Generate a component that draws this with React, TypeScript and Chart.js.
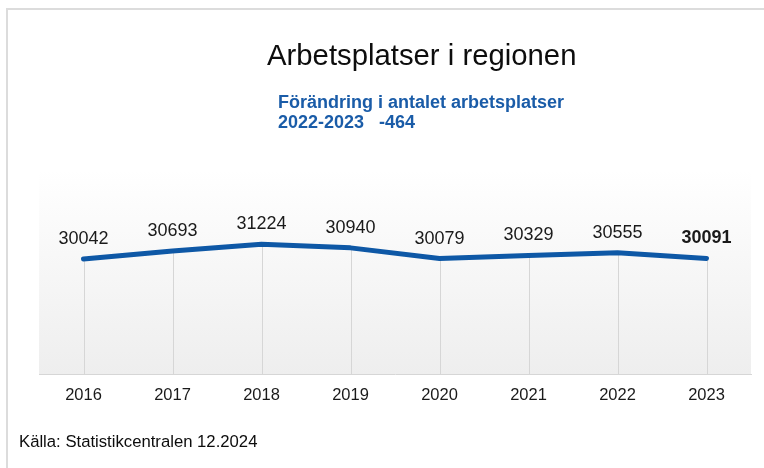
import React, { useEffect, useRef } from 'react';
import { Chart, registerables } from 'chart.js';

Chart.register(...registerables);

const years = ['2016', '2017', '2018', '2019', '2020', '2021', '2022', '2023'];
const jobs = [30042, 30693, 31224, 30940, 30079, 30329, 30555, 30091];
const boldLabelIndex = 7;
const titleText = 'Arbetsplatser i regionen';
const subtitleLines = ['Förändring i antalet arbetsplatser', '2022-2023   -464'];
const sourceText = 'Källa: Statistikcentralen 12.2024';

const FONT = '"Liberation Sans", Arial, sans-serif';
const LINE_BLUE = '#0e58a6';
const TEXT_BLUE = '#1a5ca8';

const bgPlugin = {
  id: 'bgPlugin',
  beforeDraw(chart: any) {
    const { ctx, chartArea } = chart;
    ctx.save();
    ctx.fillStyle = '#ffffff';
    ctx.fillRect(0, 0, chart.width, chart.height);
    // outer frame
    ctx.strokeStyle = '#dcdcdc';
    ctx.lineWidth = 2;
    ctx.beginPath();
    ctx.moveTo(7, chart.height + 5);
    ctx.lineTo(7, 9);
    ctx.lineTo(chart.width + 5, 9);
    ctx.stroke();
    const g = ctx.createLinearGradient(0, chartArea.top, 0, chartArea.bottom);
    g.addColorStop(0, '#ffffff');
    g.addColorStop(1, '#eeeeee');
    ctx.fillStyle = g;
    ctx.fillRect(chartArea.left, chartArea.top, chartArea.right - chartArea.left, chartArea.bottom - chartArea.top);
    ctx.restore();
  },
};

const dropLinesPlugin = {
  id: 'dropLines',
  beforeDatasetsDraw(chart: any) {
    const { ctx, chartArea } = chart;
    const meta = chart.getDatasetMeta(0);
    ctx.save();
    ctx.strokeStyle = '#d6d6d6';
    ctx.lineWidth = 1;
    meta.data.forEach((pt: any) => {
      const x = Math.round(pt.x) + 0.5;
      ctx.beginPath();
      ctx.moveTo(x, pt.y);
      ctx.lineTo(x, chartArea.bottom);
      ctx.stroke();
    });
    ctx.restore();
  },
};

const labelsPlugin = {
  id: 'valueLabels',
  afterDatasetsDraw(chart: any) {
    const { ctx } = chart;
    const meta = chart.getDatasetMeta(0);
    const data = chart.data.datasets[0].data as number[];
    ctx.save();
    ctx.textAlign = 'center';
    ctx.textBaseline = 'alphabetic';
    ctx.fillStyle = '#1a1a1a';
    meta.data.forEach((pt: any, i: number) => {
      ctx.font = `${i === boldLabelIndex ? 'bold ' : ''}18px ${FONT}`;
      ctx.fillText(String(data[i]), pt.x, pt.y - 15);
    });
    ctx.restore();
  },
};

const textPlugin = {
  id: 'texts',
  afterDraw(chart: any) {
    const { ctx } = chart;
    ctx.save();
    ctx.textAlign = 'left';
    ctx.textBaseline = 'alphabetic';
    ctx.fillStyle = '#0d0d0d';
    ctx.font = `29.3px ${FONT}`;
    ctx.fillText(titleText, 267, 65);
    ctx.fillStyle = TEXT_BLUE;
    ctx.font = `bold 18px ${FONT}`;
    ctx.fillText(subtitleLines[0], 278, 107.5);
    ctx.fillText(subtitleLines[1], 278, 127.5);
    ctx.fillStyle = '#0d0d0d';
    ctx.font = `16.7px ${FONT}`;
    ctx.fillText(sourceText, 19, 447);
    ctx.restore();
  },
};

export default function App() {
  const ref = useRef<HTMLCanvasElement | null>(null);
  useEffect(() => {
    if (!ref.current) return;
    const chart = new Chart(ref.current, {
      type: 'line',
      data: {
        labels: years,
        datasets: [
          {
            data: jobs,
            borderColor: LINE_BLUE,
            borderWidth: 5,
            borderCapStyle: 'round',
            borderJoinStyle: 'round',
            pointRadius: 0,
            pointHoverRadius: 0,
            tension: 0,
            fill: false,
          },
        ],
      },
      options: {
        responsive: false,
        animation: false,
        events: [],
        layout: { padding: { left: 39, right: 13, top: 170, bottom: 64 } },
        plugins: {
          legend: { display: false },
          title: { display: false },
          tooltip: { enabled: false },
        },
        scales: {
          x: {
            offset: true,
            grid: { display: false, drawTicks: false },
            border: { display: true, color: '#d6d6d6', width: 1 },
            ticks: {
              padding: 12,
              color: '#1a1a1a',
              font: { family: FONT, size: 16.5 },
              maxRotation: 0,
              autoSkip: false,
            },
            afterFit: (scale: any) => {
              scale.height = 30;
            },
          },
          y: {
            display: false,
            min: 20800,
            max: 37200,
          },
        },
      },
      plugins: [bgPlugin, dropLinesPlugin, labelsPlugin, textPlugin],
    });
    return () => chart.destroy();
  }, []);
  return (
    <div style={{ position: 'fixed', left: 0, top: 0, width: 764, height: 468, background: '#fff' }}>
      <canvas ref={ref} width={764} height={468} style={{ display: 'block', width: 764, height: 468 }} />
    </div>
  );
}
